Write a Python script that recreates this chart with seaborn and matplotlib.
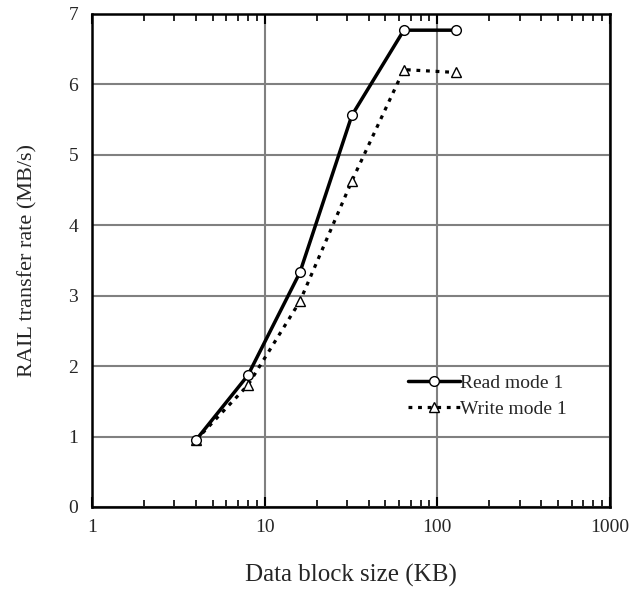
import pandas as pd
import seaborn as sns
import matplotlib.pyplot as plt
from matplotlib.ticker import LogLocator, NullFormatter, FixedLocator

# block sizes (KB) and transfer rates (MB/s)
block_kb = [4, 8, 16, 32, 64, 128]
read_mode1 = [0.95, 1.87, 3.33, 5.56, 6.77, 6.77]
write_mode1 = [0.95, 1.73, 2.92, 4.63, 6.21, 6.17]

sns.set_theme(style="white")
plt.rcParams["font.family"] = ["Liberation Serif", "DejaVu Serif"]

read_df = pd.DataFrame({"size": block_kb, "rate": read_mode1})
write_df = pd.DataFrame({"size": block_kb, "rate": write_mode1})

fig = plt.figure(figsize=(6.34, 5.9), dpi=100)
ax = fig.add_axes([0.1451, 0.1407, 0.817, 0.8356])

sns.lineplot(data=read_df, x="size", y="rate", ax=ax, color="black", linewidth=2.5,
             marker="o", markersize=7, markerfacecolor="white", markeredgecolor="black",
             markeredgewidth=1.0, label="Read mode 1", zorder=4)
sns.lineplot(data=write_df, x="size", y="rate", ax=ax, color="black", linewidth=2.3,
             marker="^", markersize=6.5, markerfacecolor="white", markeredgecolor="black",
             markeredgewidth=1.0, label="Write mode 1", zorder=3)
ax.lines[1].set_dashes((1.2, 1.8))

ax.set_xscale("log")
ax.set_xlim(1, 1000)
ax.set_ylim(0, 7)
ax.xaxis.set_major_locator(FixedLocator([1, 10, 100, 1000]))
ax.xaxis.set_minor_locator(LogLocator(base=10, subs=range(2, 10)))
ax.xaxis.set_minor_formatter(NullFormatter())
ax.set_xticklabels(["1", "10", "100", "1000"])
ax.set_yticks(range(0, 8))

ax.grid(True, which="major", color="#808080", linewidth=1.5)
ax.tick_params(axis="x", which="both", direction="in", top=True, bottom=True,
               labelsize=14, pad=9, color="black")
ax.tick_params(axis="x", which="major", length=7, width=1.5)
ax.tick_params(axis="x", which="minor", length=5, width=1.2)
ax.tick_params(axis="y", which="major", direction="in", length=0, labelsize=14, pad=10)
for s in ax.spines.values():
    s.set_color("black")
    s.set_linewidth(1.8)

ax.set_xlabel("Data block size (KB)", fontsize=18, labelpad=20)
ax.set_ylabel("RAIL transfer rate (MB/s)", fontsize=16, labelpad=22)

ax.legend(loc="center left", bbox_to_anchor=(0.61, 0.225), frameon=False,
          fontsize=14, handlelength=2.7, handletextpad=0.0, labelspacing=0.4,
          borderaxespad=0, borderpad=0)

fig.savefig("out.png", dpi=100)
